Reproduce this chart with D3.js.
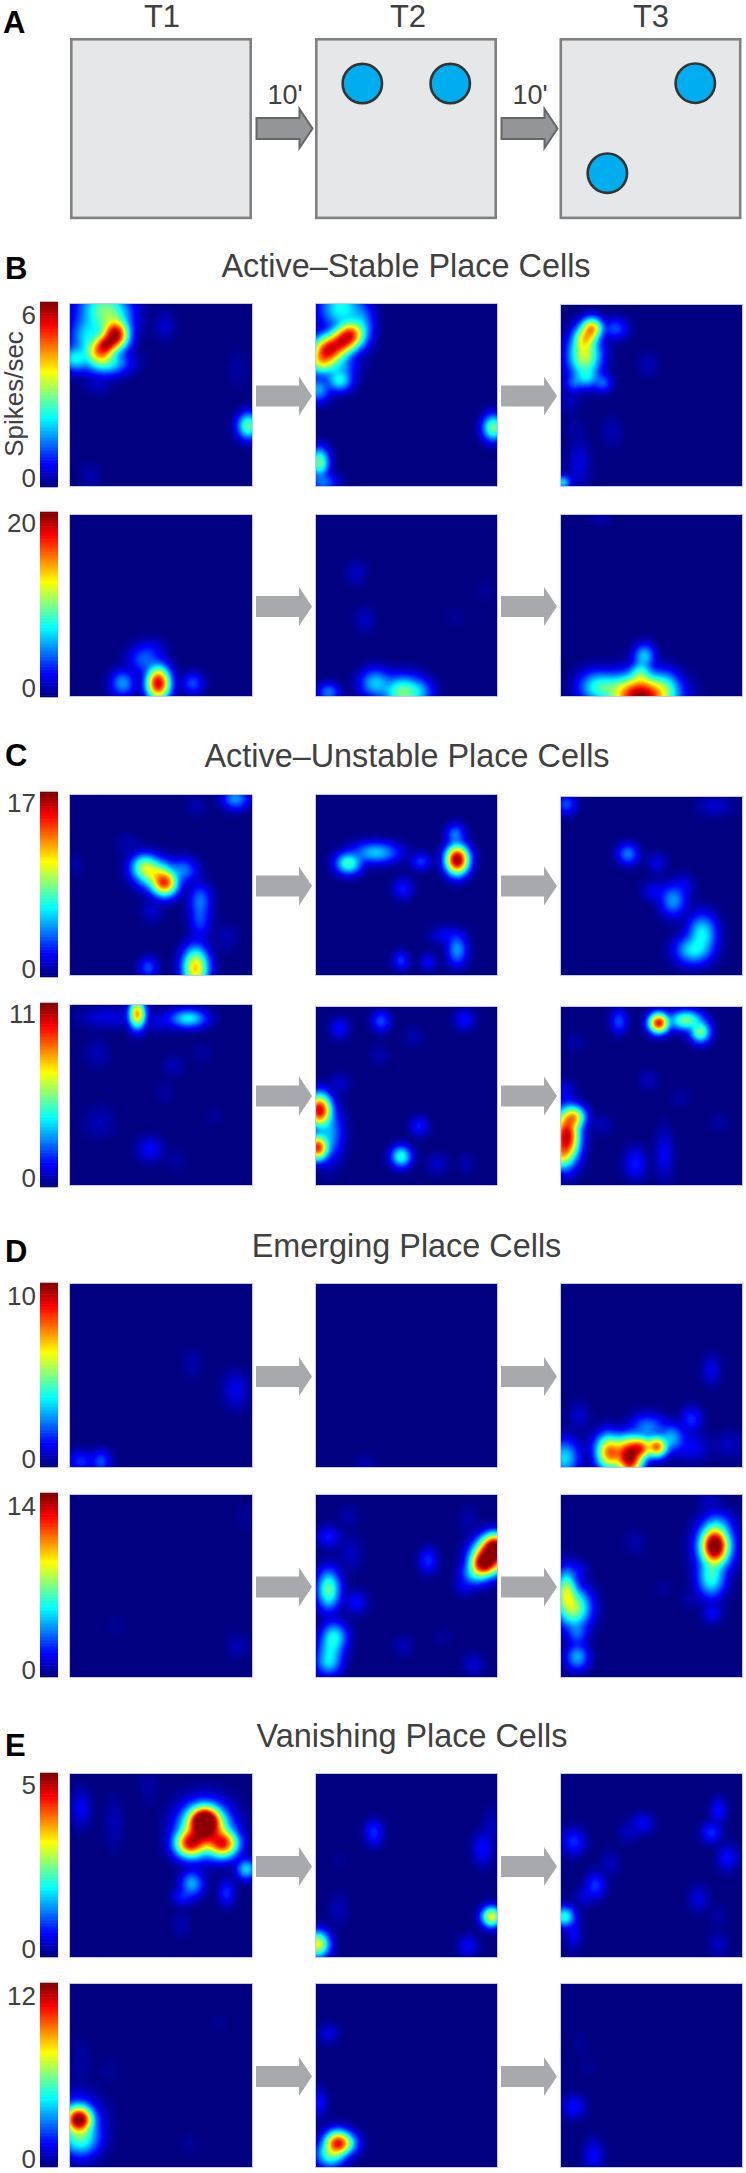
<!DOCTYPE html>
<html><head><meta charset="utf-8">
<script src="https://cdn.jsdelivr.net/npm/d3@7/dist/d3.min.js"></script>
<style>html,body{margin:0;padding:0;background:#fff}svg{display:block}text{font-family:"Liberation Sans",Arial,sans-serif}</style>
</head><body><svg id="c" width="746" height="2173"></svg>
<script>
// ---------- data ----------
const trials = ["T1","T2","T3"];
const delayLabel = "10'";
const sectionLabels = ["A","B","C","D","E"];
const sectionTitles = ["Active–Stable Place Cells","Active–Unstable Place Cells","Emerging Place Cells","Vanishing Place Cells"];
const rowMaxTicks = [6,20,17,11,10,14,5,12];
const axisTitle = "Spikes/sec";
// object positions in the arena, percent of box: [x%, y%]
const objectsT2 = [[26,25.2],[74.3,25.2]];
const objectsT3 = [[74.6,25],[26.3,74.7]];
// Firing fields: [x%, y%, sigmaX, sigmaY, peak (fraction of the row's colour scale)]
const B1_T1=[[25,17,3.6,4.2,.95],[20,22,3,3,.75],[16.5,26,4,3.8,.72],[18,2,7,6,.4],[22,8,6,6,.4],[10,18,5,6,.35],[20,32,6,3.5,.4],[3,30,4,3.5,.38],[15,44,4,3,.07],[52,12,3,4,.08],[98,67,3,3.6,.48],[11,95,3,4,.05],[92,36,3,5,.04]];
const B1_T2=[[19,17,3.8,3.8,.8],[14,21,4,3.8,.76],[7,25,4.5,4,.85],[14,2,6,6,.4],[3,31,4,3.8,.6],[25,12,3.5,6,.3],[13,42,3.5,3,.38],[12,34,5,4,.3],[1,47,3.5,3.5,.3],[2,87,2.6,4,.5],[4,98,4,2.5,.24],[98,68,3,3.6,.5]];
const B1_T3=[[17,13,3,3,.7],[13,28,4.5,6,.58],[15,18,3,3,.45],[12,19,3,4,.45],[30,13,3.5,3,.2],[14,40,3.6,3,.32],[23,43,2.6,2.6,.22],[7,43,2.6,2.6,.2],[48,33,3,3.5,.06],[28,70,3,4,.06],[10,88,3,7,.1],[1,98,2.2,2,.35],[8,68,3,3,.04],[5,53,3,4,.06]];
const B2_T1=[[48.5,93,3.3,4.6,.92],[29,93,3.4,3.6,.28],[41,80,4.5,4,.22],[45,74,4,3,.1],[67.5,93,3,3,.2]];
const B2_T2=[[48,98,5.5,4.5,.5],[33,93,4.4,4,.33],[7,98,3,2.6,.25],[57,98,4,4,.25],[22,32,3,3.5,.07],[27,58,3,3.5,.07],[93,42,3,3,.03],[77,57,3,3,.03]];
const B2_T3=[[44,100,8.5,5.6,1],[25,95,6,4,.35],[19,95,5,4.5,.3],[58,95,4,4.5,.3],[46,78,3,3.4,.33],[44,88,3,3.5,.4],[22,2,3,2,.05]];
const C1_T1=[[52,49,3.6,3.6,.8],[47,44,5,4,.55],[41,40,3.8,3.6,.5],[62,42,4,3.5,.25],[71.5,58,3.2,4.5,.22],[71.5,68,3,6,.2],[69,96,3.6,5.6,.68],[43,96,2.6,3,.2],[91,2,3.6,3,.28],[45,64,3,3.5,.08],[32,28,3.5,3.5,.05],[86,79,3,4,.06],[69,6,3,3,.05],[3,39,2.5,3,.04]];
const C1_T2=[[78,36,3.2,4,1],[77,22,2.6,3,.25],[18,38,3.6,3,.45],[33,32,6.5,3,.33],[58,37,2.8,2.4,.18],[48,52,2.8,3,.15],[72,78,4.5,2.6,.12],[78,86,2.8,4.4,.28],[47,92,2.2,2.6,.18],[62,93,2.2,2.6,.13]];
const C1_T3=[[37,32,3,3,.25],[53,37,2.8,3,.1],[62,58,3.6,4.5,.28],[52,53,3.5,3,.12],[68,50,3,3.5,.1],[78,77,4,5.5,.38],[73,86,5,4,.36],[3,4,2.8,3,.2],[85,5,5,3,.08]];
const C2_T1=[[37,5,2.3,4,.72],[65,7.5,5,2.6,.38],[21,7,8,3,.1],[50,9,4,3,.1],[15,27,3.5,4,.06],[16,65,4.5,4.5,.06],[44,80,3.6,3.5,.13],[57,34,3,3,.06],[52,49,3,3,.04],[73,27,3,3,.04],[79,62,3,3,.03],[58,86,3,3,.04]];
const C2_T2=[[2,58,3.2,4.5,.92],[1,79,2.8,3.5,.85],[7,71,3.8,7.5,.3],[13,43,3,3,.08],[47,84,2.8,3,.42],[57,67,2.6,2.8,.15],[36,8,2.6,3,.2],[13,12,2.6,3,.14],[82,7,2.8,3,.14],[54,17,3,3,.05],[35,27,3,3,.05],[67,88,3,3,.08],[83,88,2.5,3,.05]];
const C2_T3=[[3,73,3.6,7,.95],[7,62,3.2,3.2,.65],[0,83,3,4,.5],[54,9,2.8,2.8,.88],[69,7.5,4.6,2.8,.5],[77,14,2.8,3,.5],[32,8,2.3,3.5,.2],[41,88,3.2,4.5,.15],[57,83,2.6,7,.12],[23,66,3,3,.06],[48,41,3,3,.06],[3,47,2.5,3,.1],[66,51,3,3,.04],[87,65,3,3,.04],[8,20,3,3,.04]];
const D1_T1=[[91,58,3.6,5,.11],[67,43,3,4,.05],[6,97,3.6,3,.17],[17,97,2.8,3.2,.2]];
const D1_T2=[[27,98,3,2.5,.05]];
const D1_T3=[[38,95,3.6,5,.98],[44,90,3,3,.7],[53,89,2.8,2.8,.75],[26,92,3.5,5,.62],[40,88,9,3.5,.42],[2,95,4,5,.35],[30,93,4,4,.55],[61,84,3.6,3.6,.3],[72,74,3,3.5,.17],[48,78,5,3.5,.25],[83,47,2.6,4,.11],[10,72,3,4,.08],[93,88,4,4,.07],[72,89,5,4,.12]];
const D2_T1=[[92,83,3,3.5,.06],[96,12,2.5,4,.03],[25,72,4,4,.02]];
const D2_T2=[[96,34,4.6,4.5,1],[92,38,3.4,3.4,.8],[99,28,3.8,3.6,.9],[88,43,3.8,3.4,.35],[62,36,2.6,3.6,.17],[84,14,3,4,.05],[82,50,3,2.8,.1],[7,52,3.2,5.4,.48],[10,78,3.6,4,.38],[8,85,3.6,4,.32],[7,92,3.6,3.6,.33],[7,23,3.2,3,.15],[19,32,3.5,5,.07],[22,59,3.2,3.2,.13],[18,12,3,3,.05],[48,83,3,3,.06],[87,93,2.8,3,.09],[70,78,3,3,.03]];
const D2_T3=[[85,28,3.6,5,1],[85,28,5,6.5,.5],[87,16,4.2,3.6,.2],[83,45,3.8,5.5,.42],[83.5,65,2.8,2.8,.13],[72,57,3,3,.05],[7,62,4.6,5.4,.55],[3,55,3,5,.45],[3,50,2.8,5.4,.38],[9,42,3,3,.12],[9,89,3.2,3.6,.3],[9,76,3,3.4,.22],[41,26,3,3.5,.05],[82,3,3,3,.07],[57,51,3,3,.03]];
const E1_T1=[[74,25,4,3.5,1],[84,38,4.2,3.8,.85],[66,38,4.2,3.8,.85],[74,30,5.5,5.5,.9],[74,30,7,7,.5],[67,60,3.2,3.6,.3],[97,52,2.8,2.8,.35],[86,65,2.3,3.6,.17],[62,67,3,2.5,.15],[6,19,2.8,5,.12],[24,27,2.8,7,.06],[43,7,3,5,.04],[61,82,2.8,4,.05]];
const E1_T2=[[97,78,2.8,2.8,.62],[1,93,3.2,3.6,.62],[32,32,2.6,3.6,.17],[92,41,2.8,4.5,.14],[97,29,2.5,5,.07],[84,94,2.8,3,.13],[12.5,74,2.8,4.5,.06],[13,47,3,3,.02]];
const E1_T3=[[2,78,2.8,2.8,.42],[7,87,2.3,4.5,.12],[7,37,3.2,3.6,.17],[19,61,2.8,3.6,.18],[27,49,2.6,3.5,.07],[13,67,2.8,3,.09],[45,27,3.2,3,.12],[37,32,2.8,3,.07],[87,20,2.3,3.6,.14],[83,32,2.8,2.8,.17],[92,46,2.8,3.6,.14],[76,68,2.8,3.6,.1],[87,93,2.8,3.5,.07],[87,78,2.8,3.5,.04]];
const E2_T1=[[5,74,3.6,3.6,1],[6,84,5,5,.42],[3,76,6.5,7,.32],[6,42,3,6,.04],[22,47,3,4,.03],[66,87,3,3,.03],[82,21,3,3,.02]];
const E2_T2=[[12,87,3.6,3.4,.85],[8,93,4,3.6,.45],[17,87,3.5,3,.35],[7,27,2.8,2.8,.1],[1.5,65,2.3,4,.14]];
const E2_T3=[[7,67,3.2,3.2,.14],[18,94,2.8,4.5,.13],[15,45,3,4,.02],[10,32,3,4,.02]];
const panelFields=[[B1_T1,B1_T2,B1_T3],[B2_T1,B2_T2,B2_T3],[C1_T1,C1_T2,C1_T3],[C2_T1,C2_T2,C2_T3],[D1_T1,D1_T2,D1_T3],[D2_T1,D2_T2,D2_T3],[E1_T1,E1_T2,E1_T3],[E2_T1,E2_T2,E2_T3]];

// ---------- layout ----------
const columns=[{x:70,w:182},{x:316,w:181},{x:561,w:181}];
const boxX=[70,315,559.5];
const rows=[
 {top:304,h:182,off:[0,0,1],bar:[302,487],tick:[324,487]},
 {top:515,h:181,off:[0,0,0],bar:[512,697],tick:[532,697]},
 {top:795,h:180,off:[0,0,2],bar:[792,977],tick:[812,978]},
 {top:1005,h:180,off:[0,2,2],bar:[1003,1187],tick:[1023,1187]},
 {top:1284,h:183,off:[0,0,0],bar:[1283,1467],tick:[1305,1468]},
 {top:1495,h:182,off:[0,0,0],bar:[1493,1677],tick:[1515,1679]},
 {top:1774,h:183,off:[0,0,0],bar:[1773,1957],tick:[1794,1958]},
 {top:1984,h:183,off:[0,0,0],bar:[1983,2167],tick:[2005,2168]}];
const labelPos=[[3,33],[5,279],[5,766],[5,1262],[5,1756]];
const titlePos=[[406,277],[407,767],[406.5,1257],[412,1747]];
const trialCx=[162,408,651];
const arrowX=[256,501];
const delayCx=[285,530];

const ink="#404040";
const svg=d3.select("#c");
const defs=svg.append("defs");
const jet=d3.scaleLinear().domain([0,.125,.375,.625,.875,1]).range(["#000080","#0000ff","#00ffff","#ffff00","#ff0000","#800000"]).clamp(true);
const levels=d3.range(0.015,1,1/72);
const GRID=109, PAD=10, SIGMA=1.45;

function arrow(g,x,cy,fill,stroke){
  const p=d3.path();
  p.moveTo(x,cy-10.5);p.lineTo(x+43,cy-10.5);p.lineTo(x+43,cy-19.5);p.lineTo(x+56,cy);p.lineTo(x+43,cy+19.5);p.lineTo(x+43,cy+10.5);p.lineTo(x,cy+10.5);p.closePath();
  g.append("path").attr("d",p.toString()).attr("fill",fill).attr("stroke",stroke||"none").attr("stroke-width",stroke?2:0);
}

// Panel A
const gA=svg.append("g");
const objs=[[],objectsT2,objectsT3];
boxX.forEach((bx,i)=>{
  gA.append("text").attr("x",trialCx[i]).attr("y",27).attr("text-anchor","middle").attr("font-size",31).attr("fill",ink).text(trials[i]);
  gA.append("rect").attr("x",bx+1.3).attr("y",39.3).attr("width",179.4).attr("height",178.6).attr("fill","#e6e7e8").attr("stroke","#808080").attr("stroke-width",2.6);
  const sx=d3.scaleLinear([0,100],[bx,bx+182]), sy=d3.scaleLinear([0,100],[38,219]);
  gA.selectAll(null).data(objs[i]).join("circle").attr("cx",d=>sx(d[0])).attr("cy",d=>sy(d[1])).attr("r",19.7).attr("fill","#00aeef").attr("stroke","#333").attr("stroke-width",2.6);
});
arrowX.forEach((x,i)=>{
  arrow(gA,x+.5,128.5,"#939598","#666");
  gA.append("text").attr("x",delayCx[i]).attr("y",104).attr("text-anchor","middle").attr("font-size",27).attr("fill",ink).text(delayLabel);
});

// section labels and titles
sectionLabels.forEach((s,i)=>svg.append("text").attr("x",labelPos[i][0]).attr("y",labelPos[i][1]).attr("font-size",31).attr("font-weight","bold").attr("fill","#000").text(s));
sectionTitles.forEach((s,i)=>svg.append("text").attr("x",titlePos[i][0]).attr("y",titlePos[i][1]).attr("text-anchor","middle").attr("font-size",32.4).attr("fill",ink).text(s));

// rate-map rows
rows.forEach((r,ri)=>{
  const g=svg.append("g");
  const barSteps=d3.range(0,128);
  const barY=d3.scaleBand().domain(barSteps).range([r.bar[1],r.bar[0]]);
  g.selectAll(null).data(barSteps).join("rect").attr("x",40).attr("width",18).attr("y",d=>barY(d)-.3).attr("height",barY.bandwidth()+.6).attr("fill",d=>jet(d/127));
  const tickY=d3.scaleLinear([0,rowMaxTicks[ri]],[r.tick[1],r.tick[0]]);
  g.selectAll(null).data([0,rowMaxTicks[ri]]).join("text").attr("x",36).attr("y",d=>tickY(d)).attr("text-anchor","end").attr("font-size",26).attr("fill",ink).text(d=>d);
  arrowX.forEach(x=>arrow(g,x,r.top+r.h/2+1,"#a7a9ac"));
  columns.forEach((c,ci)=>{
    const fields=panelFields[ri][ci];
    const px=d3.scaleLinear([0,GRID-1],[-PAD,100+PAD]);
    const vals=new Array(GRID*GRID);
    for(let j=0;j<GRID;j++)for(let i=0;i<GRID;i++){
      let s=.008*.008;
      for(const f of fields){
        const dx=(px(i)-f[0])/(f[2]*SIGMA),dy=(px(j)-f[1])/(f[3]*SIGMA);
        const v=f[4]*Math.exp(-.5*(dx*dx+dy*dy));
        s+=v*v;
      }
      vals[j*GRID+i]=Math.min(1,Math.sqrt(s));
    }
    const y0=r.top+r.off[ci], h=r.h-r.off[ci];
    const id=`clip${ri}_${ci}`;
    defs.append("clipPath").attr("id",id).append("rect").attr("x",c.x).attr("y",y0).attr("width",c.w).attr("height",h);
    const hg=g.append("g").attr("clip-path",`url(#${id})`);
    hg.append("rect").attr("x",c.x).attr("y",y0).attr("width",c.w).attr("height",h).attr("fill","#000080");
    const kx=c.w/100*(100+2*PAD)/(GRID-1), ky=h/100*(100+2*PAD)/(GRID-1);
    const pg=hg.append("g").attr("transform",`translate(${c.x-PAD*c.w/100-.5*kx},${y0-PAD*h/100-.5*ky}) scale(${kx},${ky})`);
    const conts=d3.contours().size([GRID,GRID]).smooth(true).thresholds(levels)(vals);
    const path=d3.geoPath();
    pg.selectAll("path").data(conts.filter(d=>d.coordinates.length)).join("path").attr("d",path).attr("fill",d=>jet(d.value));
    g.append("rect").attr("x",c.x-.5).attr("y",y0-.5).attr("width",c.w+1).attr("height",h+1).attr("fill","none").attr("stroke","#c3c6ea").attr("stroke-width",1);
  });
});
svg.append("text").attr("transform","translate(23,394) rotate(-90)").attr("text-anchor","middle").attr("font-size",26).attr("fill",ink).text(axisTitle);
</script></body></html>
